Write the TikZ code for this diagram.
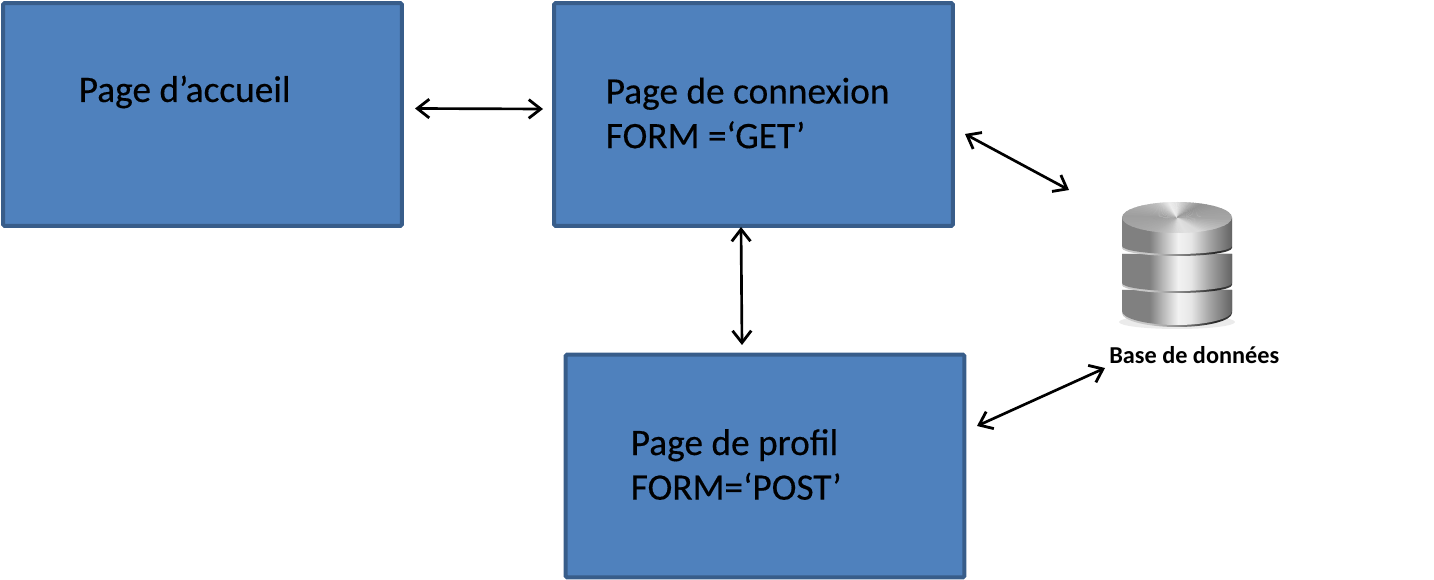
\documentclass[tikz,border=0pt]{standalone}
\usepackage{fontspec}
\setmainfont{Carlito}
\newfontfamily\heavier[FakeBold=0.35]{Carlito}
\usetikzlibrary{arrows.meta}
\pgfdeclarehorizontalshading{metal}{100bp}{
 color(0bp)=(black!50); color(25bp)=(black!50); color(31bp)=(black!28); color(38bp)=(white!95!black); color(44bp)=(black!10);
 color(52bp)=(black!35); color(62bp)=(black!60); color(69bp)=(black!42); color(75bp)=(black!48)}
\pgfdeclarehorizontalshading{gapdark}{100bp}{
 color(0bp)=(black!22); color(25bp)=(black!22); color(38bp)=(black!45); color(55bp)=(black!85); color(66bp)=(black!70); color(75bp)=(black!25)}
\definecolor{boxfill}{HTML}{4F81BD}
\definecolor{boxline}{HTML}{385D8A}
\tikzset{
 x=0.75pt,y=-0.75pt,
 pagebox/.style={draw=boxline,fill=boxfill,line width=3pt,rounded corners=1pt,minimum width=299pt,minimum height=167pt,inner sep=0pt,outer sep=0pt},
 pagetext/.style={anchor=west,align=left,font=\heavier\fontsize{28pt}{33.5pt}\selectfont,inner sep=0pt,text=black},
 twoway/.style={draw=black,line width=2pt,{Straight Barb[length=9pt,width=14pt,line width=2.1pt]}-{Straight Barb[length=9pt,width=14pt,line width=2.1pt]}}
}
\newcommand{\dbdisc}[3]{% top y, side bottom y, lip
 \shade[shading=gapdark] (1122,#1) -- (1122,#2) arc[start angle=180,end angle=0,x radius=55,y radius=#3] -- (1232,#1) -- cycle;
 \shade[shading=metal] (1122,#1) -- (1122,#2-2) arc[start angle=180,end angle=0,x radius=55,y radius=#3] -- (1232,#1) -- cycle;
}
\begin{document}
\begin{tikzpicture}
\useasboundingbox (0,0) rectangle (1434,580);
\node[pagebox] (accueil) at (202.5,114.5) {};
\node[pagebox] (connexion) at (753.5,114.5) {};
\node[pagebox] (profil) at (765,466) {};
\node[pagetext] (taccueil) at (78.5,92) {Page d’accueil};
\node[pagetext] (tconnexion) at (605.5,113) {Page de connexion\\FORM =‘GET’};
\node[pagetext] (tprofil) at (630.5,464.5) {Page de profil\\FORM=‘POST’};
% database
\fill[black!8] (1177,322) ellipse[x radius=58,y radius=7];
\dbdisc{290}{313}{14}
\dbdisc{254}{285}{8}
\dbdisc{218}{248}{8}
\begin{scope}
\clip (1177,217.5) ellipse[x radius=55,y radius=15.5];
\foreach \a/\g/\h in {0/35/15,30/15/12,60/12/15,90/15/24,120/24/32,150/32/38,180/38/26,210/26/7,240/7/12,270/12/24,300/24/42,330/42/35}{
 \foreach \k in {0,...,9}{
  \pgfmathsetmacro\v{\g+(\h-\g)*\k/10}
  \pgfmathsetmacro\b{\a+3*\k}
  \pgfmathsetmacro\c{\a+3*\k+4}
  \fill[black!\v,shift={(1177,217.5)}] (0,0) -- (\b:80) -- (\c:80) -- cycle;
 }
}
\end{scope}
\node[anchor=base west,font=\bfseries\fontsize{18.2pt}{22pt}\selectfont,inner sep=0pt] (tbase) at (1109,363.5) {Base de données};
\coordinate (a1) at (415,108.5);
\coordinate (a2) at (543,109);
\coordinate (b1) at (965,134);
\coordinate (b2) at (1069,190);
\coordinate (c1) at (741,227);
\coordinate (c2) at (742,345);
\coordinate (d1) at (977,426);
\coordinate (d2) at (1105,368);
\draw[twoway] (a1) -- (a2);
\draw[twoway] (b1) -- (b2);
\draw[twoway] (c1) -- (c2);
\draw[twoway] (d1) -- (d2);
\end{tikzpicture}
\end{document}
